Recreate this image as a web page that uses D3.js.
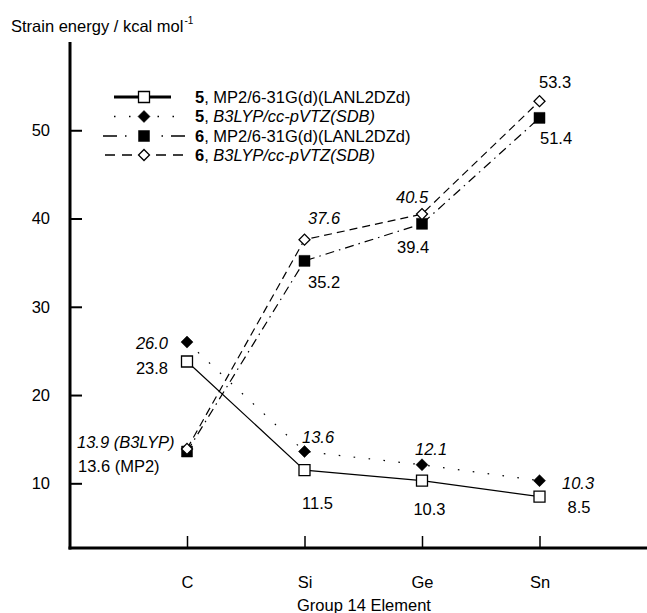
<!DOCTYPE html>
<html lang="en">
<head>
<meta charset="utf-8">
<script src="https://d3js.org/d3.v7.min.js"></script>
<style>
  body { margin: 0; background: #fff; }
  text { font-family: "Liberation Sans", Arial, sans-serif; fill: #000; }
</style>
</head>
<body>
<div id="chart"></div>
<script>
// data
const categories = ["C", "Si", "Ge", "Sn"];
const mp2_5   = [23.8, 11.5, 10.3, 8.5];
const b3lyp_5 = [26.0, 13.6, 12.1, 10.3];
const mp2_6   = [13.6, 35.2, 39.4, 51.4];
const b3lyp_6 = [13.9, 37.6, 40.5, 53.3];
const yTicks  = [10, 20, 30, 40, 50];

const W = 647, H = 613;
const FS = "16.5px";
const svg = d3.select("#chart").append("svg")
    .attr("width", W).attr("height", H);

const x = d3.scalePoint().domain(categories).range([187, 539.5]);
const y = d3.scaleLinear().domain([2.67, 60]).range([548, 42]);

// series styles + label placement [dx, dy, anchor]
const series = [
  { id: "5", name: "MP2/6-31G(d)(LANL2DZd)", italic: false, values: mp2_5,
    marker: "square", fill: "#fff", size: 11, dash: null,
    labels: [[-19, 6.5, "end"], [13, 33, "middle"], [7.5, 28, "middle"], [28, 10.5, "start"]],
    suffix: ["", "", "", ""] },
  { id: "5", name: "B3LYP/cc-pVTZ(SDB)", italic: true, values: b3lyp_5,
    marker: "diamond", fill: "#000", size: 12, dash: "1.6,13.4",
    labels: [[-19, 1, "end"], [-2.5, -14.5, "start"], [-7, -16, "start"], [22.5, 2.5, "start"]],
    suffix: ["", "", "", ""] },
  { id: "6", name: "MP2/6-31G(d)(LANL2DZd)", italic: false, values: mp2_6,
    marker: "square", fill: "#000", size: 11, dash: "9,5,1.5,5",
    labels: [[-109, 14.5, "start"], [3.5, 21, "start"], [-25, 23, "start"], [0.5, 20, "start"]],
    suffix: [" (MP2)", "", "", ""] },
  { id: "6", name: "B3LYP/cc-pVTZ(SDB)", italic: true, values: b3lyp_6,
    marker: "diamond", fill: "#fff", size: 11, dash: "8,5",
    labels: [[-110, -7, "start"], [3.5, -21.5, "start"], [-26, -17, "start"], [-0.5, -19, "start"]],
    suffix: [" (B3LYP)", "", "", ""], upright: [false, false, false, true] }
];

function markerPath(type, size) {
  if (type === "square") return d3.symbol(d3.symbolSquare, size * size)();
  // diamond drawn as a square turned 45 degrees
  const s = size / Math.SQRT2;
  return d3.symbol(d3.symbolSquare, s * s)();
}
function drawMarker(g, type, size, fill, cx, cy) {
  g.append("path")
    .attr("d", markerPath(type, size))
    .attr("transform", "translate(" + cx + "," + cy + ")" + (type === "diamond" ? " rotate(45)" : ""))
    .attr("fill", fill)
    .attr("stroke", "#000")
    .attr("stroke-width", fill === "#fff" ? 1.3 : 0.5);
}

// axes
const yAxis = d3.axisLeft(y).tickValues(yTicks).tickSizeInner(-12).tickSizeOuter(0).tickPadding(20);
const gy = svg.append("g").attr("transform", "translate(70,0)").call(yAxis);
gy.select(".domain").remove();
gy.selectAll(".tick line").attr("stroke-width", 2);
gy.selectAll("text").attr("font-size", FS).attr("font-family", "Liberation Sans, Arial, sans-serif");

const xAxis = d3.axisBottom(x).tickSizeInner(-12).tickSizeOuter(0).tickPadding(28);
const gx = svg.append("g").attr("transform", "translate(0,548)").call(xAxis);
gx.select(".domain").remove();
gx.selectAll(".tick line").attr("stroke-width", 1.5);
gx.selectAll("text").attr("font-size", FS).attr("font-family", "Liberation Sans, Arial, sans-serif");

svg.append("line").attr("x1", 70).attr("x2", 70).attr("y1", 42).attr("y2", 549.5)
  .attr("stroke", "#000").attr("stroke-width", 3);
svg.append("line").attr("x1", 68.5).attr("x2", W).attr("y1", 548).attr("y2", 548)
  .attr("stroke", "#000").attr("stroke-width", 3);

// axis titles
const yt = svg.append("text").attr("x", 11).attr("y", 32).attr("font-size", FS)
  .text("Strain energy / kcal mol");
yt.append("tspan").attr("font-size", "10px").attr("dy", -8).attr("dx", 1).text("-1");

svg.append("text").attr("x", 364).attr("y", 611).attr("text-anchor", "middle")
  .attr("font-size", FS).text("Group 14 Element");

// lines
const line = d3.line().x((d, i) => x(categories[i])).y(d => y(d));
series.forEach(s => {
  svg.append("path")
    .attr("d", line(s.values))
    .attr("fill", "none")
    .attr("stroke", "#000")
    .attr("stroke-width", 1.2)
    .attr("stroke-dasharray", s.dash);
});

// markers (draw 6 before 5 so the open diamond sits on the filled square)
[2, 3, 0, 1].forEach(k => {
  const s = series[k];
  const g = svg.append("g");
  s.values.forEach((v, i) => drawMarker(g, s.marker, s.size, s.fill, x(categories[i]), y(v)));
});

// value labels
const fmt = d3.format(".1f");
series.forEach(s => {
  s.values.forEach((v, i) => {
    const p = s.labels[i];
    const it = s.italic && !(s.upright && s.upright[i]);
    svg.append("text")
      .attr("x", x(categories[i]) + p[0])
      .attr("y", y(v) + p[1])
      .attr("dy", "0.36em")
      .attr("text-anchor", p[2])
      .attr("font-size", FS)
      .attr("font-style", it ? "italic" : "normal")
      .text(fmt(v) + s.suffix[i]);
  });
});

// legend
const legY = [97, 116.5, 136, 155];
const legLines = [
  { x0: 114, x1: 171, dash: null, w: 3, split: false },
  { x0: 114, x1: 174, dash: "1.5,13.5", w: 1.5, split: true, gap: 6 },
  { x0: 103, x1: 185, dash: "14,8,1.5,8", w: 1.5, split: true, gap: 10 },
  { x0: 105, x1: 183, dash: "10,7", w: 1.5, split: true, gap: 4 }
];
const legX = 144;
series.forEach((s, k) => {
  const g = svg.append("g");
  const L = legLines[k], ly = legY[k];
  if (!L.split) {
    g.append("line").attr("x1", L.x0).attr("x2", L.x1).attr("y1", ly).attr("y2", ly)
      .attr("stroke", "#000").attr("stroke-width", L.w);
  } else {
    [[L.x0, legX - L.gap], [L.x1, legX + L.gap]].forEach(seg => {
      g.append("line").attr("x1", seg[0]).attr("x2", seg[1]).attr("y1", ly).attr("y2", ly)
        .attr("stroke", "#000").attr("stroke-width", L.w).attr("stroke-dasharray", L.dash);
    });
  }
  drawMarker(g, s.marker, s.size, s.fill, legX, ly);
  const t = g.append("text").attr("x", 195).attr("y", ly).attr("dy", "0.36em").attr("font-size", FS);
  t.append("tspan").attr("font-weight", "bold").text(s.id);
  t.append("tspan").text(", ");
  t.append("tspan").attr("font-style", s.italic ? "italic" : "normal").text(s.name);
});
</script>
</body>
</html>
